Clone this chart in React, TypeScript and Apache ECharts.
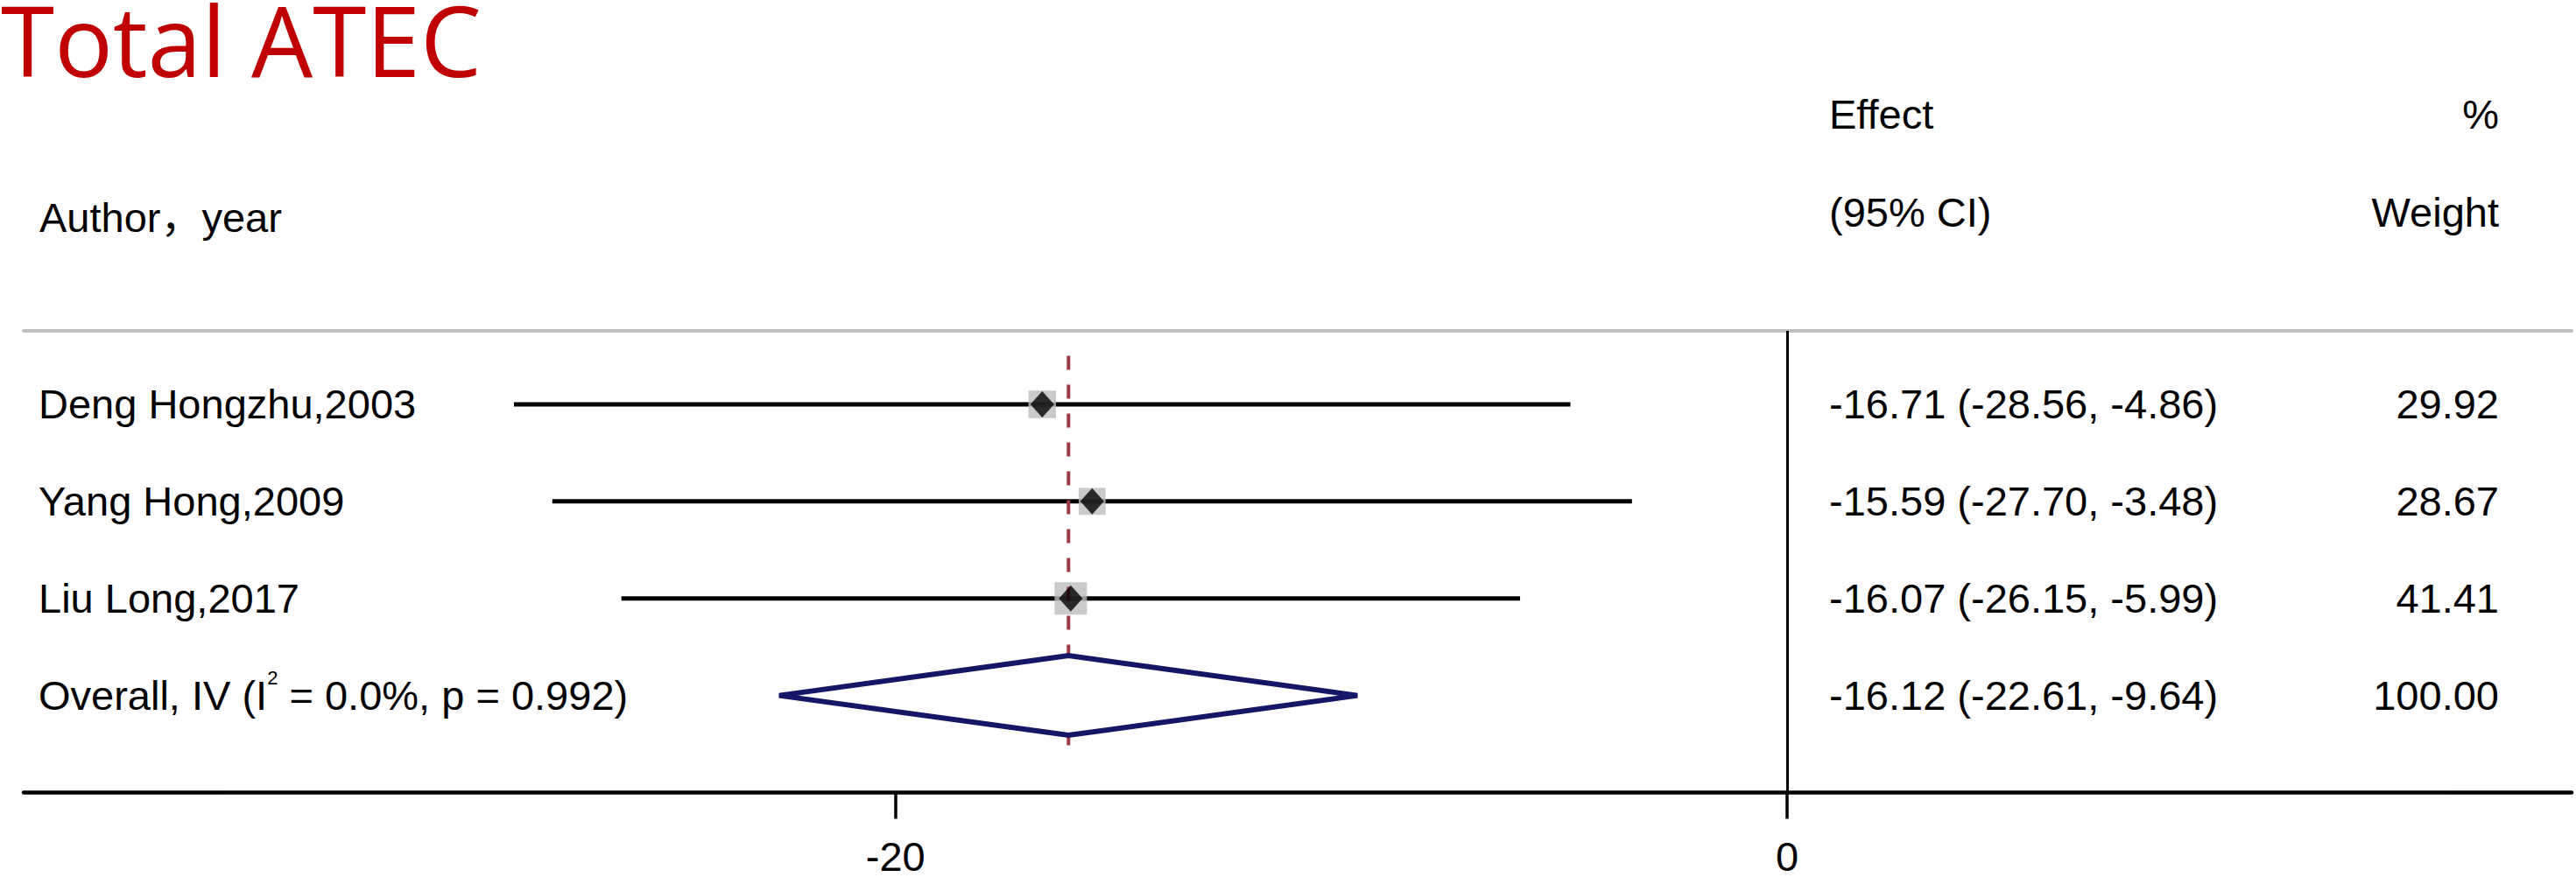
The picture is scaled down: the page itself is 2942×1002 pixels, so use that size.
import React, { useEffect, useRef } from "react";
import * as echarts from "echarts";

// ---- data ----
const studies = ["Deng Hongzhu,2003", "Yang Hong,2009", "Liu Long,2017"];
const effects = [-16.71, -15.59, -16.07];
const lowerCI = [-28.56, -27.7, -26.15];
const upperCI = [-4.86, -3.48, -5.99];
const weights = [29.92, 28.67, 41.41];
const overallLabel = "Overall, IV (I{sup|2} = 0.0%, p = 0.992)";
const overallEffect = -16.12;
const overallLower = -22.61;
const overallUpper = -9.64;
const overallWeight = 100.0;
const xTicks = [-20, 0];

const titleText = "Total ATEC";
const headerLeft = "Author，year";
const headerEffect = ["Effect", "(95% CI)"];
const headerWeight = ["%", "Weight"];

const X_MIN = -39.56;
const X_MAX = 17.6;
const Y_MIN = -0.757;
const Y_MAX = 4.0;

const FONT = '"Liberation Sans", Arial, sans-serif';
const FS = 47;

const fmt = (v: number) => v.toFixed(2);

export default function App() {
  const ref = useRef<HTMLDivElement>(null);

  useEffect(() => {
    if (!ref.current) return;
    const chart = echarts.init(ref.current, null, { renderer: "svg" });

    const labelTexts = [...studies, overallLabel];
    const effectTexts = [
      ...studies.map((_, i) => `${fmt(effects[i])} (${fmt(lowerCI[i])}, ${fmt(upperCI[i])})`),
      `${fmt(overallEffect)} (${fmt(overallLower)}, ${fmt(overallUpper)})`,
    ];
    const weightTexts = [...weights.map(fmt), fmt(overallWeight)];

    const txt = (x: number, y: number, text: string, align: string, extra: any = {}) => ({
      type: "text",
      x,
      y,
      style: {
        text,
        fontSize: FS,
        fontFamily: FONT,
        fill: "#000",
        align,
        textAlign: align,
        verticalAlign: "middle",
        textVerticalAlign: "middle",
        ...extra,
      },
    });

    const option: any = {
      animation: false,
      backgroundColor: "#ffffff",
      grid: { left: 27, right: 5, top: 378, bottom: 95, containLabel: false },
      xAxis: [
        {
          type: "value",
          min: X_MIN,
          max: X_MAX,
          position: "bottom",
          axisLine: { show: true, onZero: false, lineStyle: { color: "#000", width: 4.5 } },
          axisTick: { show: true, length: 30, customValues: xTicks, lineStyle: { color: "#000", width: 3.5 } },
          axisLabel: {
            show: true,
            customValues: xTicks,
            margin: 53,
            lineHeight: 40,
            fontSize: FS,
            fontFamily: FONT,
            color: "#000",
          },
          splitLine: { show: false },
        },
        {
          type: "value",
          min: X_MIN,
          max: X_MAX,
          position: "top",
          axisLine: { show: true, onZero: false, lineStyle: { color: "#c0c0c0", width: 4 } },
          axisTick: { show: false },
          axisLabel: { show: false },
          splitLine: { show: false },
        },
      ],
      yAxis: { type: "value", inverse: true, min: Y_MIN, max: Y_MAX, show: false },
      graphic: [
        txt(1, 45, titleText, "left", {
          fontSize: 111,
          lineHeight: 80,
          fontFamily: '"Open Sans", "Noto Sans", sans-serif',
          fill: "#C00000",
        }),
        txt(45, 248, headerLeft, "left", { fontFamily: '"Liberation Sans", "Noto Sans CJK SC", Arial, sans-serif' }),
        txt(2089, 130, headerEffect[0], "left"),
        txt(2089, 242, headerEffect[1], "left"),
        txt(2854, 130, headerWeight[0], "right"),
        txt(2854, 242, headerWeight[1], "right"),
      ],
      series: [
        {
          type: "custom",
          name: "CI",
          z: 2,
          data: studies.map((_, i) => [lowerCI[i], upperCI[i], i]),
          encode: { x: [0, 1], y: 2 },
          renderItem: (params: any, api: any) => {
            const a = api.coord([api.value(0), api.value(2)]);
            const b = api.coord([api.value(1), api.value(2)]);
            return {
              type: "line",
              shape: { x1: a[0], y1: a[1], x2: b[0], y2: b[1] },
              style: { stroke: "#000", lineWidth: 5 },
            };
          },
        },
        {
          type: "scatter",
          name: "Weight",
          z: 3,
          symbol: "rect",
          symbolSize: (v: number[]) => 5.75 * Math.sqrt(v[2]),
          itemStyle: { color: "#bdbdbd" },
          data: studies.map((_, i) => [effects[i], i, weights[i]]),
        },
        {
          type: "line",
          name: "Pooled",
          z: 4,
          showSymbol: false,
          symbol: "none",
          lineStyle: { color: "#9c3b47", width: 4, type: [16, 17] },
          data: [
            [overallEffect, -0.5],
            [overallEffect, 3.52],
          ],
          markLine: {
            silent: true,
            symbol: ["none", "none"],
            label: { show: false },
            lineStyle: { color: "#000", width: 3, type: "solid" },
            data: [{ xAxis: 0 }],
          },
        },
        {
          type: "scatter",
          name: "Effect",
          z: 5,
          symbol: "diamond",
          symbolSize: [27, 30],
          itemStyle: { color: "#000" },
          data: studies.map((_, i) => [effects[i], i]),
        },
        {
          type: "custom",
          name: "Overall",
          z: 6,
          data: [[overallLower, overallEffect, overallUpper, studies.length]],
          encode: { x: [0, 1, 2], y: 3 },
          renderItem: (params: any, api: any) => {
            const row = api.value(3);
            const l = api.coord([api.value(0), row]);
            const t = api.coord([api.value(1), row - 0.41]);
            const r = api.coord([api.value(2), row]);
            const b = api.coord([api.value(1), row + 0.41]);
            return {
              type: "polygon",
              shape: { points: [l, t, r, b] },
              style: { fill: "#ffffff", stroke: "#161666", lineWidth: 6, lineJoin: "miter" },
            };
          },
        },
        {
          type: "custom",
          name: "Text",
          z: 7,
          data: labelTexts.map((_, i) => [0, i]),
          encode: { x: 0, y: 1 },
          renderItem: (params: any, api: any) => {
            const i = params.dataIndex;
            const y = api.coord([0, api.value(1)])[1];
            return {
              type: "group",
              children: [
                txt(44, y, labelTexts[i], "left", {
                  lineHeight: 62,
                  rich: {
                    sup: { fontSize: 22, fontFamily: FONT, lineHeight: 22, verticalAlign: "top", fill: "#000" },
                  },
                }),
                txt(2089, y, effectTexts[i], "left"),
                txt(2854, y, weightTexts[i], "right"),
              ],
            };
          },
        },
      ],
    };

    chart.setOption(option);
    return () => chart.dispose();
  }, []);

  return (
    <div
      ref={ref}
      style={{ position: "absolute", left: 0, top: 0, width: 2942, height: 1002, background: "#fff" }}
    />
  );
}
